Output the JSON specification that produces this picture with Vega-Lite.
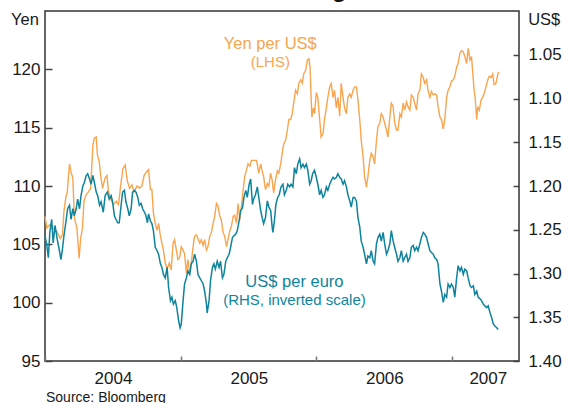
{
"$schema": "https://vega.github.io/schema/vega-lite/v6.json",
"width": 474, "height": 350,
"autosize": {"type": "none"},
"padding": {"left": 45, "top": 11, "right": 43, "bottom": 42},
"background": "white",
"title": {"text": "US Dollar Exchange Rates", "fontSize": 24, "fontWeight": "bold", "font": "Liberation Sans", "color": "#111111", "anchor": "middle", "frame": "group", "baseline": "alphabetic", "offset": 0, "dy": 10},
"config": {
  "view": {"stroke": "#333333", "strokeWidth": 1.5},
  "font": "Liberation Sans",
  "axis": {"grid": false, "domain": false, "labelFont": "Liberation Sans", "titleFont": "Liberation Sans", "labelColor": "#1a1a1a", "titleColor": "#1a1a1a", "titleFontWeight": "normal"}
},
"datasets": {
"yen": [
{"date":"2004-01-01","v":107.4},{"date":"2004-01-06","v":106.4},{"date":"2004-01-14","v":106.7},{"date":"2004-01-23","v":106.4},{"date":"2004-02-02","v":106.1},{"date":"2004-02-11","v":105.5},{"date":"2004-02-17","v":105.8},{"date":"2004-02-21","v":107.8},{"date":"2004-02-26","v":109.0},{"date":"2004-03-01","v":109.5},{"date":"2004-03-07","v":111.9},{"date":"2004-03-11","v":111.2},{"date":"2004-03-16","v":110.7},{"date":"2004-03-20","v":107.3},{"date":"2004-03-27","v":106.4},{"date":"2004-04-02","v":103.8},{"date":"2004-04-06","v":105.5},{"date":"2004-04-11","v":106.4},{"date":"2004-04-15","v":108.7},{"date":"2004-04-20","v":109.2},{"date":"2004-04-27","v":109.5},{"date":"2004-05-03","v":109.8},{"date":"2004-05-09","v":113.5},{"date":"2004-05-13","v":114.1},{"date":"2004-05-18","v":114.2},{"date":"2004-05-21","v":112.7},{"date":"2004-05-26","v":112.1},{"date":"2004-05-30","v":110.9},{"date":"2004-06-04","v":109.8},{"date":"2004-06-11","v":110.7},{"date":"2004-06-16","v":110.9},{"date":"2004-06-20","v":109.5},{"date":"2004-06-26","v":108.9},{"date":"2004-07-03","v":108.4},{"date":"2004-07-11","v":108.7},{"date":"2004-07-17","v":108.4},{"date":"2004-07-23","v":110.1},{"date":"2004-07-29","v":111.5},{"date":"2004-08-04","v":111.8},{"date":"2004-08-10","v":110.4},{"date":"2004-08-16","v":109.8},{"date":"2004-08-22","v":110.1},{"date":"2004-08-28","v":109.5},{"date":"2004-09-05","v":110.0},{"date":"2004-09-12","v":109.8},{"date":"2004-09-18","v":110.0},{"date":"2004-09-24","v":110.9},{"date":"2004-09-30","v":111.2},{"date":"2004-10-06","v":111.4},{"date":"2004-10-11","v":109.7},{"date":"2004-10-15","v":109.7},{"date":"2004-10-19","v":107.7},{"date":"2004-10-24","v":106.8},{"date":"2004-10-29","v":106.2},{"date":"2004-11-02","v":106.8},{"date":"2004-11-07","v":105.7},{"date":"2004-11-11","v":105.1},{"date":"2004-11-15","v":104.5},{"date":"2004-11-20","v":103.4},{"date":"2004-11-25","v":102.9},{"date":"2004-12-01","v":103.4},{"date":"2004-12-06","v":102.8},{"date":"2004-12-11","v":105.1},{"date":"2004-12-15","v":105.4},{"date":"2004-12-20","v":104.5},{"date":"2004-12-24","v":103.7},{"date":"2004-12-29","v":103.9},
{"date":"2005-01-02","v":104.8},{"date":"2005-01-07","v":104.5},{"date":"2005-01-11","v":104.2},{"date":"2005-01-16","v":102.5},{"date":"2005-01-20","v":103.7},{"date":"2005-01-25","v":102.5},{"date":"2005-01-29","v":103.4},{"date":"2005-02-03","v":104.8},{"date":"2005-02-07","v":105.7},{"date":"2005-02-12","v":105.8},{"date":"2005-02-16","v":105.5},{"date":"2005-02-21","v":105.1},{"date":"2005-02-25","v":105.4},{"date":"2005-03-02","v":104.9},{"date":"2005-03-06","v":105.4},{"date":"2005-03-11","v":104.5},{"date":"2005-03-15","v":104.8},{"date":"2005-03-20","v":105.7},{"date":"2005-03-24","v":106.0},{"date":"2005-03-29","v":106.8},{"date":"2005-04-02","v":107.4},{"date":"2005-04-07","v":108.5},{"date":"2005-04-11","v":108.3},{"date":"2005-04-16","v":107.4},{"date":"2005-04-20","v":107.1},{"date":"2005-04-25","v":106.0},{"date":"2005-04-29","v":105.7},{"date":"2005-05-04","v":104.8},{"date":"2005-05-08","v":105.4},{"date":"2005-05-13","v":106.2},{"date":"2005-05-17","v":106.5},{"date":"2005-05-22","v":107.4},{"date":"2005-05-26","v":107.5},{"date":"2005-05-31","v":106.8},{"date":"2005-06-04","v":108.5},{"date":"2005-06-09","v":107.1},{"date":"2005-06-13","v":108.2},{"date":"2005-06-18","v":109.7},{"date":"2005-06-22","v":110.8},{"date":"2005-06-27","v":111.4},{"date":"2005-07-01","v":111.9},{"date":"2005-07-06","v":111.7},{"date":"2005-07-10","v":112.2},{"date":"2005-07-16","v":112.2},{"date":"2005-07-24","v":112.2},{"date":"2005-07-30","v":111.1},{"date":"2005-08-04","v":111.9},{"date":"2005-08-08","v":111.3},{"date":"2005-08-12","v":110.8},{"date":"2005-08-17","v":109.7},{"date":"2005-08-22","v":110.2},{"date":"2005-08-26","v":110.0},{"date":"2005-08-31","v":111.1},{"date":"2005-09-04","v":110.5},{"date":"2005-09-08","v":109.4},{"date":"2005-09-13","v":110.5},{"date":"2005-09-18","v":111.3},{"date":"2005-09-22","v":111.1},{"date":"2005-09-27","v":111.9},{"date":"2005-10-01","v":112.8},{"date":"2005-10-05","v":113.6},{"date":"2005-10-10","v":113.9},{"date":"2005-10-15","v":114.8},{"date":"2005-10-19","v":115.7},{"date":"2005-10-24","v":115.7},{"date":"2005-10-28","v":116.2},{"date":"2005-11-01","v":117.1},{"date":"2005-11-06","v":118.2},{"date":"2005-11-11","v":117.9},{"date":"2005-11-15","v":118.8},{"date":"2005-11-20","v":119.1},{"date":"2005-11-24","v":118.8},{"date":"2005-11-28","v":119.6},{"date":"2005-12-03","v":119.9},{"date":"2005-12-08","v":120.8},{"date":"2005-12-12","v":120.9},{"date":"2005-12-15","v":120.2},{"date":"2005-12-18","v":117.6},{"date":"2005-12-20","v":115.9},{"date":"2005-12-24","v":116.7},{"date":"2005-12-27","v":116.2},
{"date":"2006-01-01","v":118.0},{"date":"2006-01-05","v":117.6},{"date":"2006-01-10","v":115.7},{"date":"2006-01-14","v":114.2},{"date":"2006-01-19","v":114.5},{"date":"2006-01-23","v":115.7},{"date":"2006-01-28","v":116.7},{"date":"2006-02-01","v":117.6},{"date":"2006-02-06","v":118.5},{"date":"2006-02-10","v":118.8},{"date":"2006-02-15","v":117.6},{"date":"2006-02-19","v":118.2},{"date":"2006-02-24","v":116.7},{"date":"2006-02-28","v":117.6},{"date":"2006-03-05","v":116.0},{"date":"2006-03-09","v":118.8},{"date":"2006-03-14","v":117.6},{"date":"2006-03-18","v":116.7},{"date":"2006-03-23","v":116.2},{"date":"2006-03-27","v":117.6},{"date":"2006-04-01","v":117.9},{"date":"2006-04-05","v":117.6},{"date":"2006-04-10","v":118.2},{"date":"2006-04-14","v":118.5},{"date":"2006-04-19","v":118.5},{"date":"2006-04-23","v":117.4},{"date":"2006-04-28","v":115.7},{"date":"2006-05-02","v":113.9},{"date":"2006-05-07","v":112.5},{"date":"2006-05-11","v":110.8},{"date":"2006-05-16","v":109.9},{"date":"2006-05-20","v":110.8},{"date":"2006-05-25","v":112.2},{"date":"2006-05-29","v":112.8},{"date":"2006-06-03","v":112.5},{"date":"2006-06-07","v":111.9},{"date":"2006-06-12","v":113.9},{"date":"2006-06-16","v":115.1},{"date":"2006-06-21","v":115.4},{"date":"2006-06-25","v":116.2},{"date":"2006-06-30","v":115.9},{"date":"2006-07-04","v":115.4},{"date":"2006-07-09","v":114.8},{"date":"2006-07-13","v":114.2},{"date":"2006-07-18","v":115.9},{"date":"2006-07-22","v":117.1},{"date":"2006-07-27","v":116.8},{"date":"2006-07-31","v":115.4},{"date":"2006-08-05","v":114.8},{"date":"2006-08-09","v":114.8},{"date":"2006-08-14","v":116.2},{"date":"2006-08-18","v":115.9},{"date":"2006-08-23","v":117.1},{"date":"2006-08-27","v":116.5},{"date":"2006-09-01","v":117.2},{"date":"2006-09-05","v":116.8},{"date":"2006-09-10","v":116.5},{"date":"2006-09-14","v":117.8},{"date":"2006-09-19","v":117.6},{"date":"2006-09-23","v":117.1},{"date":"2006-09-28","v":116.5},{"date":"2006-10-02","v":117.9},{"date":"2006-10-07","v":118.2},{"date":"2006-10-11","v":119.6},{"date":"2006-10-16","v":119.3},{"date":"2006-10-20","v":118.8},{"date":"2006-10-25","v":119.1},{"date":"2006-10-29","v":118.2},{"date":"2006-11-03","v":117.6},{"date":"2006-11-07","v":118.1},{"date":"2006-11-12","v":117.8},{"date":"2006-11-16","v":117.9},{"date":"2006-11-21","v":117.8},{"date":"2006-11-25","v":116.8},{"date":"2006-11-30","v":115.9},{"date":"2006-12-04","v":115.7},{"date":"2006-12-09","v":114.9},{"date":"2006-12-13","v":115.7},{"date":"2006-12-18","v":117.6},{"date":"2006-12-22","v":118.2},{"date":"2006-12-27","v":118.5},{"date":"2006-12-31","v":119.0},
{"date":"2007-01-05","v":119.1},{"date":"2007-01-09","v":119.4},{"date":"2007-01-14","v":120.2},{"date":"2007-01-18","v":120.5},{"date":"2007-01-23","v":121.4},{"date":"2007-01-27","v":121.6},{"date":"2007-02-01","v":121.5},{"date":"2007-02-05","v":121.1},{"date":"2007-02-10","v":120.5},{"date":"2007-02-14","v":121.8},{"date":"2007-02-19","v":120.8},{"date":"2007-02-23","v":121.1},{"date":"2007-02-28","v":119.1},{"date":"2007-03-02","v":118.2},{"date":"2007-03-05","v":117.6},{"date":"2007-03-09","v":115.7},{"date":"2007-03-12","v":116.8},{"date":"2007-03-16","v":116.5},{"date":"2007-03-21","v":117.4},{"date":"2007-03-25","v":117.6},{"date":"2007-03-29","v":117.9},{"date":"2007-04-03","v":118.5},{"date":"2007-04-08","v":119.1},{"date":"2007-04-12","v":119.4},{"date":"2007-04-17","v":119.3},{"date":"2007-04-21","v":119.6},{"date":"2007-04-25","v":118.7},{"date":"2007-04-30","v":118.8},{"date":"2007-05-05","v":119.6},{"date":"2007-05-07","v":119.8}
],
"usd": [
{"date":"2004-01-01","v":1.257},{"date":"2004-01-06","v":1.268},{"date":"2004-01-10","v":1.282},{"date":"2004-01-14","v":1.253},{"date":"2004-01-19","v":1.238},{"date":"2004-01-23","v":1.265},{"date":"2004-01-28","v":1.245},{"date":"2004-02-03","v":1.261},{"date":"2004-02-08","v":1.272},{"date":"2004-02-13","v":1.284},{"date":"2004-02-17","v":1.272},{"date":"2004-02-21","v":1.257},{"date":"2004-02-26","v":1.242},{"date":"2004-03-02","v":1.226},{"date":"2004-03-07","v":1.222},{"date":"2004-03-11","v":1.238},{"date":"2004-03-16","v":1.226},{"date":"2004-03-20","v":1.234},{"date":"2004-03-25","v":1.226},{"date":"2004-03-29","v":1.215},{"date":"2004-04-03","v":1.226},{"date":"2004-04-07","v":1.211},{"date":"2004-04-12","v":1.200},{"date":"2004-04-16","v":1.196},{"date":"2004-04-21","v":1.188},{"date":"2004-04-25","v":1.186},{"date":"2004-04-30","v":1.192},{"date":"2004-05-04","v":1.198},{"date":"2004-05-09","v":1.188},{"date":"2004-05-13","v":1.196},{"date":"2004-05-18","v":1.207},{"date":"2004-05-22","v":1.211},{"date":"2004-05-27","v":1.222},{"date":"2004-05-31","v":1.218},{"date":"2004-06-06","v":1.230},{"date":"2004-06-11","v":1.211},{"date":"2004-06-17","v":1.207},{"date":"2004-06-22","v":1.215},{"date":"2004-06-27","v":1.211},{"date":"2004-07-01","v":1.218},{"date":"2004-07-06","v":1.234},{"date":"2004-07-10","v":1.238},{"date":"2004-07-15","v":1.242},{"date":"2004-07-19","v":1.242},{"date":"2004-07-24","v":1.222},{"date":"2004-07-28","v":1.207},{"date":"2004-08-02","v":1.205},{"date":"2004-08-06","v":1.218},{"date":"2004-08-11","v":1.226},{"date":"2004-08-15","v":1.234},{"date":"2004-08-20","v":1.226},{"date":"2004-08-24","v":1.207},{"date":"2004-08-29","v":1.205},{"date":"2004-09-02","v":1.207},{"date":"2004-09-07","v":1.213},{"date":"2004-09-11","v":1.222},{"date":"2004-09-16","v":1.220},{"date":"2004-09-20","v":1.226},{"date":"2004-09-25","v":1.230},{"date":"2004-09-29","v":1.234},{"date":"2004-10-03","v":1.242},{"date":"2004-10-06","v":1.232},{"date":"2004-10-11","v":1.240},{"date":"2004-10-15","v":1.243},{"date":"2004-10-19","v":1.251},{"date":"2004-10-24","v":1.270},{"date":"2004-10-29","v":1.274},{"date":"2004-11-02","v":1.278},{"date":"2004-11-07","v":1.289},{"date":"2004-11-11","v":1.293},{"date":"2004-11-15","v":1.301},{"date":"2004-11-20","v":1.305},{"date":"2004-11-25","v":1.293},{"date":"2004-11-29","v":1.316},{"date":"2004-12-04","v":1.331},{"date":"2004-12-08","v":1.327},{"date":"2004-12-12","v":1.335},{"date":"2004-12-17","v":1.331},{"date":"2004-12-21","v":1.339},{"date":"2004-12-26","v":1.354},{"date":"2004-12-30","v":1.362},
{"date":"2005-01-02","v":1.358},{"date":"2005-01-07","v":1.331},{"date":"2005-01-11","v":1.312},{"date":"2005-01-16","v":1.305},{"date":"2005-01-20","v":1.297},{"date":"2005-01-25","v":1.301},{"date":"2005-01-29","v":1.289},{"date":"2005-02-03","v":1.286},{"date":"2005-02-07","v":1.278},{"date":"2005-02-12","v":1.286},{"date":"2005-02-16","v":1.301},{"date":"2005-02-21","v":1.305},{"date":"2005-02-25","v":1.308},{"date":"2005-03-02","v":1.312},{"date":"2005-03-06","v":1.320},{"date":"2005-03-11","v":1.335},{"date":"2005-03-13","v":1.345},{"date":"2005-03-18","v":1.331},{"date":"2005-03-22","v":1.308},{"date":"2005-03-27","v":1.293},{"date":"2005-03-31","v":1.289},{"date":"2005-04-04","v":1.295},{"date":"2005-04-09","v":1.286},{"date":"2005-04-14","v":1.293},{"date":"2005-04-18","v":1.286},{"date":"2005-04-23","v":1.305},{"date":"2005-04-27","v":1.301},{"date":"2005-05-02","v":1.286},{"date":"2005-05-06","v":1.282},{"date":"2005-05-11","v":1.278},{"date":"2005-05-15","v":1.270},{"date":"2005-05-20","v":1.259},{"date":"2005-05-24","v":1.257},{"date":"2005-05-29","v":1.255},{"date":"2005-06-02","v":1.251},{"date":"2005-06-07","v":1.240},{"date":"2005-06-11","v":1.228},{"date":"2005-06-16","v":1.225},{"date":"2005-06-20","v":1.213},{"date":"2005-06-25","v":1.205},{"date":"2005-06-29","v":1.213},{"date":"2005-07-04","v":1.198},{"date":"2005-07-08","v":1.192},{"date":"2005-07-13","v":1.221},{"date":"2005-07-16","v":1.215},{"date":"2005-07-21","v":1.210},{"date":"2005-07-26","v":1.201},{"date":"2005-07-30","v":1.213},{"date":"2005-08-04","v":1.228},{"date":"2005-08-08","v":1.236},{"date":"2005-08-12","v":1.243},{"date":"2005-08-17","v":1.236},{"date":"2005-08-22","v":1.217},{"date":"2005-08-26","v":1.224},{"date":"2005-08-31","v":1.228},{"date":"2005-09-04","v":1.247},{"date":"2005-09-06","v":1.253},{"date":"2005-09-10","v":1.240},{"date":"2005-09-14","v":1.221},{"date":"2005-09-19","v":1.213},{"date":"2005-09-23","v":1.210},{"date":"2005-09-28","v":1.201},{"date":"2005-10-03","v":1.198},{"date":"2005-10-07","v":1.210},{"date":"2005-10-12","v":1.205},{"date":"2005-10-16","v":1.198},{"date":"2005-10-21","v":1.201},{"date":"2005-10-25","v":1.198},{"date":"2005-10-30","v":1.201},{"date":"2005-11-03","v":1.179},{"date":"2005-11-08","v":1.186},{"date":"2005-11-12","v":1.175},{"date":"2005-11-17","v":1.169},{"date":"2005-11-21","v":1.179},{"date":"2005-11-26","v":1.175},{"date":"2005-11-30","v":1.179},{"date":"2005-12-05","v":1.175},{"date":"2005-12-09","v":1.182},{"date":"2005-12-14","v":1.198},{"date":"2005-12-18","v":1.194},{"date":"2005-12-22","v":1.186},{"date":"2005-12-27","v":1.182},
{"date":"2006-01-01","v":1.190},{"date":"2006-01-05","v":1.198},{"date":"2006-01-10","v":1.210},{"date":"2006-01-14","v":1.205},{"date":"2006-01-19","v":1.213},{"date":"2006-01-23","v":1.210},{"date":"2006-01-28","v":1.201},{"date":"2006-02-01","v":1.205},{"date":"2006-02-06","v":1.198},{"date":"2006-02-10","v":1.194},{"date":"2006-02-15","v":1.190},{"date":"2006-02-19","v":1.192},{"date":"2006-02-24","v":1.190},{"date":"2006-02-28","v":1.186},{"date":"2006-03-05","v":1.190},{"date":"2006-03-09","v":1.192},{"date":"2006-03-14","v":1.198},{"date":"2006-03-18","v":1.194},{"date":"2006-03-23","v":1.201},{"date":"2006-03-27","v":1.210},{"date":"2006-04-01","v":1.217},{"date":"2006-04-05","v":1.224},{"date":"2006-04-10","v":1.213},{"date":"2006-04-14","v":1.213},{"date":"2006-04-19","v":1.217},{"date":"2006-04-23","v":1.236},{"date":"2006-04-28","v":1.247},{"date":"2006-05-02","v":1.263},{"date":"2006-05-07","v":1.270},{"date":"2006-05-11","v":1.278},{"date":"2006-05-16","v":1.289},{"date":"2006-05-20","v":1.280},{"date":"2006-05-25","v":1.282},{"date":"2006-05-29","v":1.274},{"date":"2006-06-03","v":1.286},{"date":"2006-06-07","v":1.289},{"date":"2006-06-12","v":1.266},{"date":"2006-06-16","v":1.259},{"date":"2006-06-21","v":1.255},{"date":"2006-06-25","v":1.263},{"date":"2006-06-30","v":1.253},{"date":"2006-07-04","v":1.266},{"date":"2006-07-09","v":1.278},{"date":"2006-07-13","v":1.274},{"date":"2006-07-18","v":1.266},{"date":"2006-07-22","v":1.251},{"date":"2006-07-27","v":1.263},{"date":"2006-07-31","v":1.270},{"date":"2006-08-05","v":1.278},{"date":"2006-08-09","v":1.286},{"date":"2006-08-14","v":1.282},{"date":"2006-08-18","v":1.274},{"date":"2006-08-23","v":1.286},{"date":"2006-08-27","v":1.282},{"date":"2006-09-01","v":1.278},{"date":"2006-09-05","v":1.286},{"date":"2006-09-10","v":1.282},{"date":"2006-09-14","v":1.270},{"date":"2006-09-19","v":1.268},{"date":"2006-09-23","v":1.274},{"date":"2006-09-28","v":1.270},{"date":"2006-10-02","v":1.274},{"date":"2006-10-07","v":1.266},{"date":"2006-10-11","v":1.259},{"date":"2006-10-16","v":1.253},{"date":"2006-10-20","v":1.255},{"date":"2006-10-25","v":1.259},{"date":"2006-10-29","v":1.266},{"date":"2006-11-03","v":1.274},{"date":"2006-11-07","v":1.276},{"date":"2006-11-12","v":1.278},{"date":"2006-11-16","v":1.282},{"date":"2006-11-21","v":1.284},{"date":"2006-11-25","v":1.289},{"date":"2006-11-30","v":1.312},{"date":"2006-12-04","v":1.320},{"date":"2006-12-09","v":1.333},{"date":"2006-12-13","v":1.324},{"date":"2006-12-18","v":1.327},{"date":"2006-12-22","v":1.312},{"date":"2006-12-27","v":1.316},{"date":"2006-12-31","v":1.312},
{"date":"2007-01-05","v":1.316},{"date":"2007-01-09","v":1.327},{"date":"2007-01-14","v":1.305},{"date":"2007-01-18","v":1.291},{"date":"2007-01-23","v":1.297},{"date":"2007-01-27","v":1.293},{"date":"2007-02-01","v":1.301},{"date":"2007-02-05","v":1.295},{"date":"2007-02-10","v":1.297},{"date":"2007-02-14","v":1.305},{"date":"2007-02-19","v":1.314},{"date":"2007-02-23","v":1.316},{"date":"2007-02-28","v":1.314},{"date":"2007-03-04","v":1.324},{"date":"2007-03-09","v":1.320},{"date":"2007-03-13","v":1.327},{"date":"2007-03-18","v":1.329},{"date":"2007-03-22","v":1.331},{"date":"2007-03-27","v":1.335},{"date":"2007-03-31","v":1.337},{"date":"2007-04-05","v":1.339},{"date":"2007-04-09","v":1.337},{"date":"2007-04-14","v":1.345},{"date":"2007-04-18","v":1.350},{"date":"2007-04-23","v":1.358},{"date":"2007-04-27","v":1.360},{"date":"2007-05-02","v":1.362},{"date":"2007-05-06","v":1.364}
],
"labels": [
{"date":"2005-08-30","v":122.2,"text":"Yen per US$","series":"yen","role":"name"},
{"date":"2005-08-30","v":120.6,"text":"(LHS)","series":"yen","role":"note"},
{"date":"2005-11-03","v":101.8,"text":"US$ per euro","series":"usd","role":"name"},
{"date":"2005-11-03","v":100.2,"text":"(RHS, inverted scale)","series":"usd","role":"note"}
]
},
"encoding": {
  "x": {"field": "date", "type": "temporal",
    "scale": {"type": "utc", "domain": [{"year": 2004, "month": 1, "date": 1, "utc": true}, {"year": 2007, "month": 7, "date": 1, "utc": true}]},
    "axis": {
      "values": [{"year": 2004, "month": 1, "date": 1, "utc": true}, {"year": 2005, "month": 1, "date": 1, "utc": true}, {"year": 2006, "month": 1, "date": 1, "utc": true}, {"year": 2007, "month": 1, "date": 1, "utc": true}],
      "labelExpr": "'' + utcyear(datum.value)",
      "labelOffset": {"condition": {"test": "utcyear(datum.value) == 2007", "value": 36}, "value": 68},
      "labelFlush": false, "labelOverlap": false, "labelBound": false,
      "tickSize": -5, "tickColor": "#777777", "tickWidth": 1.5,
      "labelPadding": 14, "labelFontSize": 17,
      "title": "Source: Bloomberg", "titleAnchor": "start", "titleAlign": "left", "titleX": 0.5, "titleY": 40.7, "titleBaseline": "alphabetic", "titleFontSize": 14
    }
  }
},
"layer": [
  {"layer": [
    {"data": {"name": "yen"},
     "mark": {"type": "line", "color": "#F8A54E", "strokeWidth": 1.4},
     "encoding": {"y": {"field": "v", "type": "quantitative",
        "scale": {"domain": [95, 125], "nice": false, "zero": false},
        "axis": {"orient": "left", "values": [95, 100, 105, 110, 115, 120], "tickSize": -7, "tickColor": "#444444", "tickWidth": 1.5, "labelPadding": 12, "labelFontSize": 17,
          "title": "Yen", "titleAngle": 0, "titleAlign": "left", "titleBaseline": "alphabetic", "titleX": -34.5, "titleY": 13, "titleFontSize": 16.5}}}},
    {"data": {"name": "labels"},
     "mark": {"type": "text", "font": "Liberation Sans", "align": "center", "baseline": "middle"},
     "encoding": {
       "y": {"field": "v", "type": "quantitative"},
       "text": {"field": "text"},
       "color": {"condition": {"test": "datum.series == 'yen'", "value": "#F8A54E"}, "value": "#0E849C"},
       "size": {"condition": {"test": "datum.role == 'note'", "value": 15}, "value": 16.5}
     }}
  ]},
  {"data": {"name": "usd"},
   "mark": {"type": "line", "color": "#0E849C", "strokeWidth": 1.5},
   "encoding": {"y": {"field": "v", "type": "quantitative",
      "scale": {"domain": [1.0, 1.4], "reverse": true, "nice": false, "zero": false},
      "axis": {"orient": "right", "values": [1.05, 1.10, 1.15, 1.20, 1.25, 1.30, 1.35, 1.40], "format": ".2f", "tickSize": -6, "tickColor": "#444444", "tickWidth": 1.5, "labelPadding": 15, "labelFontSize": 17,
        "title": "US$", "titleAngle": 0, "titleAlign": "left", "titleBaseline": "alphabetic", "titleX": 8.7, "titleY": 13, "titleFontSize": 16.5}}}}
],
"resolve": {"scale": {"y": "independent"}}
}
